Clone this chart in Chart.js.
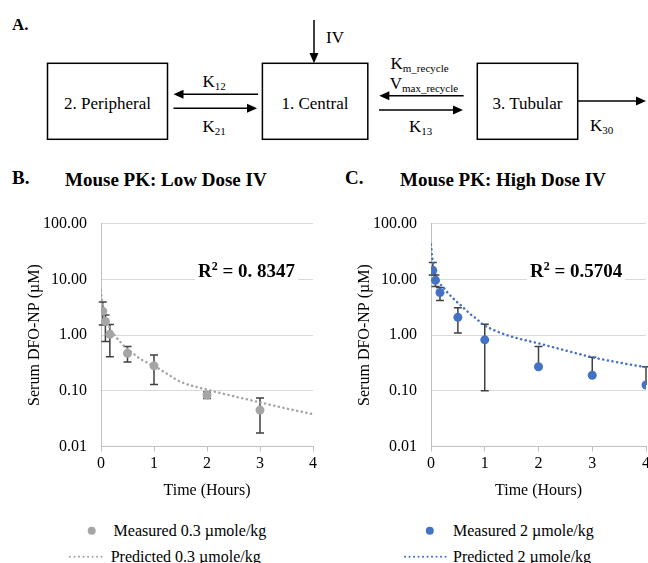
<!DOCTYPE html>
<html>
<head>
<meta charset="utf-8">
<script src="https://cdn.jsdelivr.net/npm/chart.js@4.4.0/dist/chart.umd.min.js"></script>
<style>
body { margin: 0; width: 648px; height: 563px; overflow: hidden; background: #fff; position: relative;
       font-family: "Liberation Serif", "Times New Roman", serif; color: #000; }
.abs { position: absolute; white-space: nowrap; }
svg text { font-family: "Liberation Serif", "Times New Roman", serif; }
.ttl { font-weight: bold; font-size: 19px; line-height: 22px; }
.r2 { font-weight: bold; font-size: 19px; line-height: 22px; background: #fff; padding: 0 3px; }
.leg { font-size: 16px; line-height: 18px; }
canvas { position: absolute; }
</style>
</head>
<body>

<svg class="abs" style="left:0;top:0" width="648" height="563">
  <text x="12" y="30" font-size="17" font-weight="bold">A.</text>
  <g fill="none" stroke="#000" stroke-width="1.5">
    <rect x="47.5" y="63.3" width="120" height="76"/>
    <rect x="262.4" y="63.3" width="105.4" height="76"/>
    <rect x="477.3" y="63.3" width="100.4" height="76"/>
    <line x1="314" y1="20" x2="314" y2="54"/>
    <line x1="258" y1="94.3" x2="182" y2="94.3"/>
    <line x1="173.5" y1="108.3" x2="248" y2="108.3"/>
    <line x1="463.6" y1="95.7" x2="388" y2="95.7"/>
    <line x1="379" y1="110" x2="454" y2="110"/>
    <line x1="577.7" y1="101" x2="637" y2="101"/>
  </g>
  <g fill="#000">
    <polygon points="314,63.3 309.5,53 318.5,53"/>
    <polygon points="173.5,94.3 183.5,89.8 183.5,98.8"/>
    <polygon points="257,108.3 247,103.8 247,112.8"/>
    <polygon points="379.3,95.7 389.3,91.2 389.3,100.2"/>
    <polygon points="463,110 453,105.5 453,114.5"/>
    <polygon points="646,101 636,96.5 636,105.5"/>
  </g>
  <g font-size="17">
    <text x="107.5" y="109" text-anchor="middle">2. Peripheral</text>
    <text x="315" y="109" text-anchor="middle">1. Central</text>
    <text x="527.5" y="109" text-anchor="middle">3. Tubular</text>
    <text x="326" y="43">IV</text>
    <text x="202.5" y="87">K<tspan font-size="11" dy="3">12</tspan></text>
    <text x="202.5" y="132">K<tspan font-size="11" dy="3">21</tspan></text>
    <text x="390.5" y="69">K<tspan font-size="11" dy="3">m_recycle</tspan></text>
    <text x="389.7" y="89">V<tspan font-size="11" dy="3">max_recycle</tspan></text>
    <text x="409" y="132">K<tspan font-size="11" dy="3">13</tspan></text>
    <text x="590" y="131">K<tspan font-size="11" dy="3">30</tspan></text>
  </g>
  <circle cx="91.7" cy="530.7" r="4" fill="#A5A5A5"/>
  <circle cx="429.8" cy="530.7" r="4" fill="#4472C4"/>
  <line x1="70" y1="556.7" x2="106" y2="556.7" stroke="#A5A5A5" stroke-width="2" stroke-linecap="round" stroke-dasharray="0.1 4.4"/>
  <line x1="405" y1="556.7" x2="448" y2="556.7" stroke="#4472C4" stroke-width="2" stroke-linecap="round" stroke-dasharray="0.1 4.4"/>
</svg>

<div class="abs ttl" style="left:12px;top:167px">B.</div>
<div class="abs ttl" style="left:65px;top:169px">Mouse PK: Low Dose IV</div>
<div class="abs ttl" style="left:345px;top:167px">C.</div>
<div class="abs ttl" style="left:400px;top:169px">Mouse PK: High Dose IV</div>

<canvas id="lowChart" width="330" height="300" style="left:0;top:200px"></canvas>
<canvas id="highChart" width="330" height="300" style="left:330px;top:200px"></canvas>

<div class="abs r2" style="left:195px;top:260px">R<sup style="font-size:12px;line-height:0">2</sup> = 0. 8347</div>
<div class="abs r2" style="left:527px;top:260px">R<sup style="font-size:12px;line-height:0">2</sup> = 0.5704</div>

<div class="abs leg" style="left:113.6px;top:521.7px">Measured 0.3 µmole/kg</div>
<div class="abs leg" style="left:110.7px;top:547.7px">Predicted 0.3 µmole/kg</div>
<div class="abs leg" style="left:453px;top:521.7px">Measured 2 µmole/kg</div>
<div class="abs leg" style="left:453px;top:547.7px">Predicted 2 µmole/kg</div>

<script>
// low dose (0.3 umole/kg)
const lowTime = [0.033, 0.083, 0.167, 0.5, 1, 2, 3];
const lowMeasured = [2.67, 1.75, 1.03, 0.47, 0.28, 0.084, 0.045];
const lowUpper = [3.9, 2.3, 1.55, 0.62, 0.44, 0.095, 0.074];
const lowLower = [1.52, 0.77, 0.41, 0.33, 0.13, 0.073, 0.0174];
const lowPredTime = [0, 0.01, 0.03, 0.06, 0.1, 0.15, 0.2, 0.27, 0.33, 0.4, 0.5, 0.58, 0.68, 0.77, 0.9, 1, 1.25, 1.5, 2, 2.5, 3, 3.5, 4];
const lowPred = [6.3, 4.8, 3.6, 2.6, 1.9, 1.45, 1.17, 0.96, 0.82, 0.69, 0.56, 0.49, 0.41, 0.36, 0.31, 0.28, 0.2, 0.145, 0.105, 0.08, 0.062, 0.048, 0.038];

// high dose (2 umole/kg)
const highTime = [0.033, 0.083, 0.167, 0.5, 1, 2, 3, 4];
const highMeasured = [14.5, 9.6, 5.8, 2.08, 0.82, 0.27, 0.19, 0.127];
const highUpper = [20, 12, 7.1, 3.1, 1.56, 0.62, 0.4, 0.27];
const highLower = [12, 7.4, 4.15, 1.09, 0.1, null, null, null];
const highPredTime = [0, 0.01, 0.02, 0.04, 0.06, 0.09, 0.13, 0.18, 0.24, 0.3, 0.38, 0.46, 0.55, 0.65, 0.75, 0.85, 0.94, 1.22, 1.53, 2, 2.5, 3, 3.5, 4];
const highPred = [42, 33, 25.5, 19.5, 15.5, 12, 9.3, 8, 7, 5.9, 4.9, 4.1, 3.45, 2.8, 2.3, 1.95, 1.62, 1.17, 0.92, 0.71, 0.53, 0.4, 0.32, 0.265];

const yTicks = [0.01, 0.1, 1, 10, 100];
const xTicks = [0, 1, 2, 3, 4];

const FONT = "'Liberation Serif', 'Times New Roman', serif";

const errorBars = {
    id: 'errorBars',
    beforeDatasetsDraw(chart) {
        const ctx = chart.ctx;
        const xs = chart.scales.x, ys = chart.scales.y;
        chart.data.datasets.forEach(function (ds) {
            if (!ds.errUp) return;
            ctx.save();
            ctx.strokeStyle = '#404040';
            ctx.lineWidth = 1.5;
            ds.data.forEach(function (p, i) {
                const px = xs.getPixelForValue(p.x);
                const top = ys.getPixelForValue(ds.errUp[i]);
                const low = ds.errDown[i] == null ? ys.getPixelForValue(p.y) : ys.getPixelForValue(ds.errDown[i]);
                ctx.beginPath();
                ctx.moveTo(px, top);
                ctx.lineTo(px, low);
                ctx.moveTo(px - 4, top);
                ctx.lineTo(px + 4, top);
                if (ds.errDown[i] != null) {
                    ctx.moveTo(px - 4, low);
                    ctx.lineTo(px + 4, low);
                }
                ctx.stroke();
            });
            ctx.restore();
        });
    }
};

function makeChart(id, color, time, meas, up, down, predTime, pred, padRight) {
    return new Chart(document.getElementById(id), {
        type: 'scatter',
        data: {
            datasets: [{
                label: 'Measured',
                data: time.map((t, i) => ({ x: t, y: meas[i] })),
                backgroundColor: color,
                borderColor: color,
                pointRadius: 4.5,
                pointBorderWidth: 0,
                errUp: up,
                errDown: down,
                order: 1
            }, {
                label: 'Predicted',
                data: predTime.map((t, i) => ({ x: t, y: pred[i] })),
                showLine: true,
                borderColor: color,
                borderWidth: 2.5,
                borderDash: [0.1, 4.6],
                borderCapStyle: 'round',
                cubicInterpolationMode: 'monotone',
                pointRadius: 0,
                order: 2
            }]
        },
        options: {
            responsive: false,
            animation: false,
            layout: { padding: { top: 11.7, right: padRight, left: 0, bottom: 0 } },
            plugins: { legend: { display: false }, tooltip: { enabled: false } },
            scales: {
                x: {
                    type: 'linear', min: 0, max: 4,
                    afterBuildTicks: s => { s.ticks = xTicks.map(v => ({ value: v })); },
                    ticks: { font: { family: FONT, size: 16 }, color: '#000', padding: 3 },
                    grid: { drawOnChartArea: false, drawTicks: true, tickLength: 5, color: '#BFBFBF' },
                    border: { color: '#BFBFBF' },
                    title: { display: true, text: 'Time (Hours)', font: { family: FONT, size: 16 }, color: '#000', padding: { top: 3, bottom: 0 } },
                    afterFit: s => { s.height = 53.5; }
                },
                y: {
                    type: 'logarithmic', min: 0.01, max: 100,
                    afterBuildTicks: s => { s.ticks = yTicks.map(v => ({ value: v })); },
                    ticks: { callback: v => Number(v).toFixed(2), font: { family: FONT, size: 16 }, color: '#000', padding: 14 },
                    grid: { color: '#D9D9D9', drawTicks: false },
                    border: { color: '#BFBFBF' },
                    title: { display: true, text: 'Serum DFO-NP (µM)', font: { family: FONT, size: 16 }, color: '#000', padding: { top: 25, bottom: 0 } },
                    afterFit: s => { s.width = 101; }
                }
            }
        },
        plugins: [errorBars]
    });
}

makeChart('lowChart', '#A5A5A5', lowTime, lowMeasured, lowUpper, lowLower, lowPredTime, lowPred, 17);
makeChart('highChart', '#4472C4', highTime, highMeasured, highUpper, highLower, highPredTime, highPred, 14);
</script>
</body>
</html>
